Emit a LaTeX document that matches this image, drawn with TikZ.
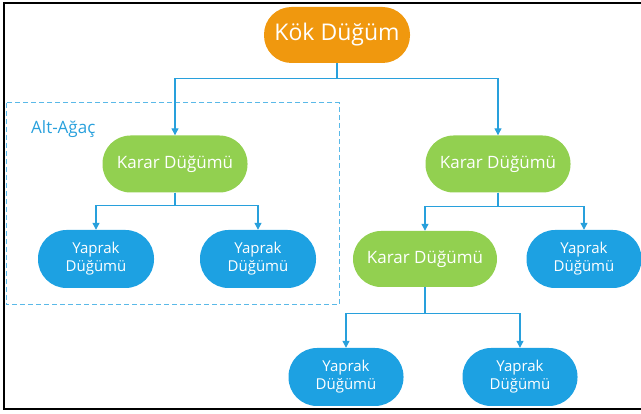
\documentclass[tikz,border=0pt]{standalone}
\usepackage{fontspec}
\setmainfont{Open Sans}
\usetikzlibrary{arrows.meta,positioning}
\definecolor{kokturuncu}{RGB}{240,152,14}
\definecolor{kararyesil}{RGB}{146,208,80}
\definecolor{yaprakmavi}{RGB}{29,161,226}
\definecolor{okmavi}{RGB}{40,160,220}
\definecolor{kesikmavi}{RGB}{90,185,232}

\begin{document}
\begin{tikzpicture}[x=1pt,y=-1pt]
                \tikzstyle{every node}+=[inner sep=0pt, text=white]
                \tikzstyle{kok}=[fill=kokturuncu, rounded corners=27.5pt, minimum width=146pt, minimum height=56pt, font=\fontsize{23}{26}\selectfont]
                \tikzstyle{karar}=[fill=kararyesil, rounded corners=28pt, minimum width=145pt, minimum height=57pt, font=\fontsize{17}{20}\selectfont]
                \tikzstyle{yaprak}=[fill=yaprakmavi, rounded corners=28.5pt, minimum width=116pt, minimum height=58pt, align=center, font=\fontsize{15}{18}\selectfont]
                \tikzstyle{bag}=[draw=okmavi, line width=1.2pt, -{Triangle[length=7pt,width=7pt]}]
                \useasboundingbox (0,0) rectangle (641,414);
                % cerceve
                \draw [black, line width=2.5pt] (641,3) -- (4,3) -- (4,409) -- (641,409);
                % alt-agac kutusu
                \draw [kesikmavi, line width=1pt, dash pattern=on 5pt off 3pt] (6,103) rectangle (339,305);
                \node [anchor=base west, text=okmavi, font=\fontsize{17}{20}\selectfont] (altagac) at (31,134) {Alt-Ağaç};
                % dugumler
                \node [kok] (kok) at (337,35) {Kök Düğüm};
                \node [karar] (karar1) at (175,164) {Karar Düğümü};
                \node [karar] (karar2) at (498,164) {Karar Düğümü};
                \node [karar, minimum width=144pt, minimum height=56pt] (karar3) at (425,259) {Karar Düğümü};
                \node [yaprak] (yaprak1) at (96,259) {Yaprak\\Düğümü};
                \node [yaprak] (yaprak2) at (258,259) {Yaprak\\Düğümü};
                \node [yaprak, minimum width=115pt] (yaprak3) at (584,259) {Yaprak\\Düğümü};
                \node [yaprak, minimum width=115pt] (yaprak4) at (346,377) {Yaprak\\Düğümü};
                \node [yaprak, minimum width=115pt] (yaprak5) at (520,377) {Yaprak\\Düğümü};
                % baglantilar
                \draw [bag] (kok.south) -- ++(0,15) -| (karar1.north);
                \draw [bag] (kok.south) -- ++(0,15) -| (karar2.north);
                \draw [bag] (karar1.south) -- ++(0,13) -| (yaprak1.north);
                \draw [bag] (karar1.south) -- ++(0,13) -| (yaprak2.north);
                \draw [bag] (karar2.south) -- ++(0,14) -| (karar3.north);
                \draw [bag] (karar2.south) -- ++(0,14) -| (yaprak3.north);
                \draw [bag] (karar3.south) -- ++(0,26) -| (yaprak4.north);
                \draw [bag] (karar3.south) -- ++(0,26) -| (yaprak5.north);
\end{tikzpicture}
\end{document}
